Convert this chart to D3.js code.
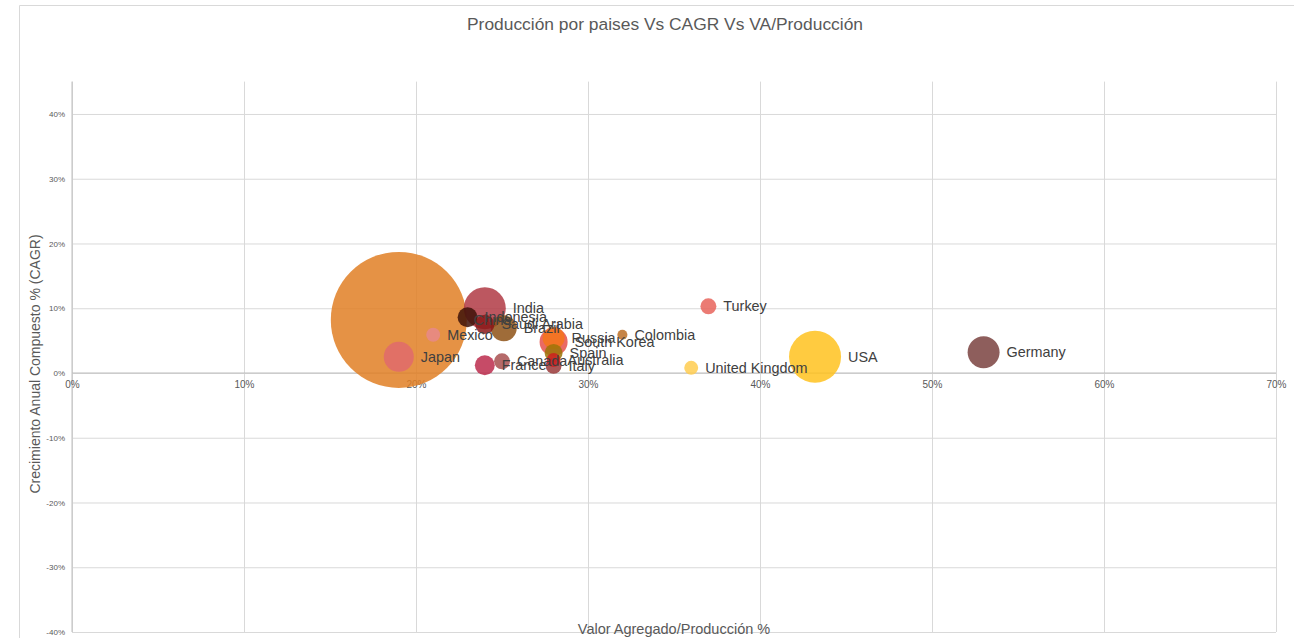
<!DOCTYPE html>
<html>
<head>
<meta charset="utf-8">
<script src="https://cdn.jsdelivr.net/npm/d3@7"></script>
<style>
  html, body { margin: 0; padding: 0; background: #fff; }
  svg { display: block; font-family: "Liberation Sans", Arial, sans-serif; }
</style>
</head>
<body>
<svg id="chart" width="1294" height="638"></svg>
<script>
// ---- Data ----
const countries = ["China", "USA", "India", "Germany", "Japan", "South Korea", "Brazil", "Russia",
  "Indonesia", "France", "Saudi Arabia", "Spain", "Italy", "Canada", "Turkey", "Australia",
  "Mexico", "United Kingdom", "Colombia"];
const vaProduccion = [0.19, 0.432, 0.24, 0.53, 0.19, 0.28, 0.251, 0.28,
  0.23, 0.24, 0.24, 0.28, 0.28, 0.25, 0.37, 0.28,
  0.21, 0.36, 0.32];
const cagr = [0.082, 0.025, 0.10, 0.032, 0.025, 0.048, 0.069, 0.054,
  0.086, 0.012, 0.075, 0.031, 0.011, 0.018, 0.103, 0.02,
  0.059, 0.008, 0.059];
const produccion = [4000, 585, 381, 221, 195, 170, 146, 105,
  86, 86, 80, 70, 55, 55, 55, 42,
  42, 42, 22];
const colors = ["#E07F24", "#FFC21F", "#B03A44", "#7A4240", "#E06A6C", "#E5504A", "#8E5216", "#F4761A",
  "#3E1208", "#BC2C4C", "#8A1818", "#9C7408", "#9A3838", "#A85050", "#E8645C", "#CC2020",
  "#E8888A", "#FFCC50", "#BC6E24"];
const xTicks = [0, 0.1, 0.2, 0.3, 0.4, 0.5, 0.6, 0.7];
const yTicks = [-0.4, -0.3, -0.2, -0.1, 0, 0.1, 0.2, 0.3, 0.4];

const title = "Producción por paises Vs CAGR Vs VA/Producción";
const xTitle = "Valor Agregado/Producción %";
const yTitle = "Crecimiento Anual Compuesto % (CAGR)";

// ---- Layout ----
const svg = d3.select("#chart");
const L = 72, R = 1276, T = 81.6, B = 632;

const x = d3.scaleLinear().domain([0, 0.7]).range([L, R]);
const y = d3.scaleLinear().domain([-0.4, 0.45]).range([B, T]);
const r = d3.scaleSqrt().domain([0, d3.max(produccion)]).range([0, 68]);
const pct = v => d3.format(".0%")(v).replace("\u2212", "-");

// outer chart border (top + left)
svg.append("line").attr("x1", 19.5).attr("x2", 1294).attr("y1", 5.5).attr("y2", 5.5)
  .attr("stroke", "#d9d9d9").attr("stroke-width", 1);
svg.append("line").attr("x1", 19.5).attr("x2", 19.5).attr("y1", 5.5).attr("y2", 638)
  .attr("stroke", "#d9d9d9").attr("stroke-width", 1);

// gridlines
const gx = svg.append("g").attr("transform", `translate(0,${B})`)
  .call(d3.axisBottom(x).tickValues(xTicks).tickSize(-(B - T)).tickFormat(""));
const gy = svg.append("g").attr("transform", `translate(${L},0)`)
  .call(d3.axisLeft(y).tickValues(yTicks).tickSize(-(R - L)).tickFormat(""));
[gx, gy].forEach(g => {
  g.select(".domain").remove();
  g.selectAll(".tick line").attr("stroke", "#d9d9d9").attr("stroke-width", 1);
});
// axis lines
svg.append("line").attr("x1", L).attr("x2", R).attr("y1", y(0)).attr("y2", y(0))
  .attr("stroke", "#bfbfbf");
svg.append("line").attr("x1", L).attr("x2", L).attr("y1", T).attr("y2", B)
  .attr("stroke", "#bfbfbf");

// tick labels
const xl = svg.append("g").attr("transform", `translate(0,${y(0)})`)
  .call(d3.axisBottom(x).tickValues(xTicks).tickSize(0).tickPadding(8).tickFormat(pct));
xl.select(".domain").remove();
xl.selectAll("text").attr("fill", "#595959").attr("font-size", "10px")
  .attr("font-family", "'Liberation Sans', Arial, sans-serif");

const yl = svg.append("g").attr("transform", `translate(${L},0)`)
  .call(d3.axisLeft(y).tickValues(yTicks).tickSize(0).tickPadding(7).tickFormat(pct));
yl.select(".domain").remove();
yl.selectAll("text").attr("fill", "#595959").attr("font-size", "8px")
  .attr("font-family", "'Liberation Sans', Arial, sans-serif");

// bubbles
const data = countries.map((c, i) => ({ c, x: vaProduccion[i], y: cagr[i], p: produccion[i], col: colors[i] }));
const sorted = data.slice().sort((a, b) => b.p - a.p);
svg.append("g").selectAll("circle").data(sorted).join("circle")
  .attr("cx", d => x(d.x)).attr("cy", d => y(d.y)).attr("r", d => r(d.p))
  .attr("fill", d => d.col).attr("fill-opacity", 0.85);

// data labels
svg.append("g").selectAll("text").data(data).join("text")
  .attr("x", d => x(d.x) + r(d.p) + 7).attr("y", d => y(d.y))
  .attr("dy", "0.35em")
  .attr("font-size", "14.4px").attr("fill", "#404040")
  .text(d => d.c);

// titles
svg.append("text").attr("x", 665).attr("y", 30).attr("text-anchor", "middle")
  .attr("font-size", "17.4px").attr("fill", "#595959").text(title);
svg.append("text").attr("x", 674).attr("y", 634).attr("text-anchor", "middle")
  .attr("font-size", "14.5px").attr("fill", "#595959").text(xTitle);
svg.append("text").attr("transform", "translate(40,364) rotate(-90)").attr("text-anchor", "middle")
  .attr("font-size", "14px").attr("fill", "#595959").text(yTitle);
</script>
</body>
</html>
